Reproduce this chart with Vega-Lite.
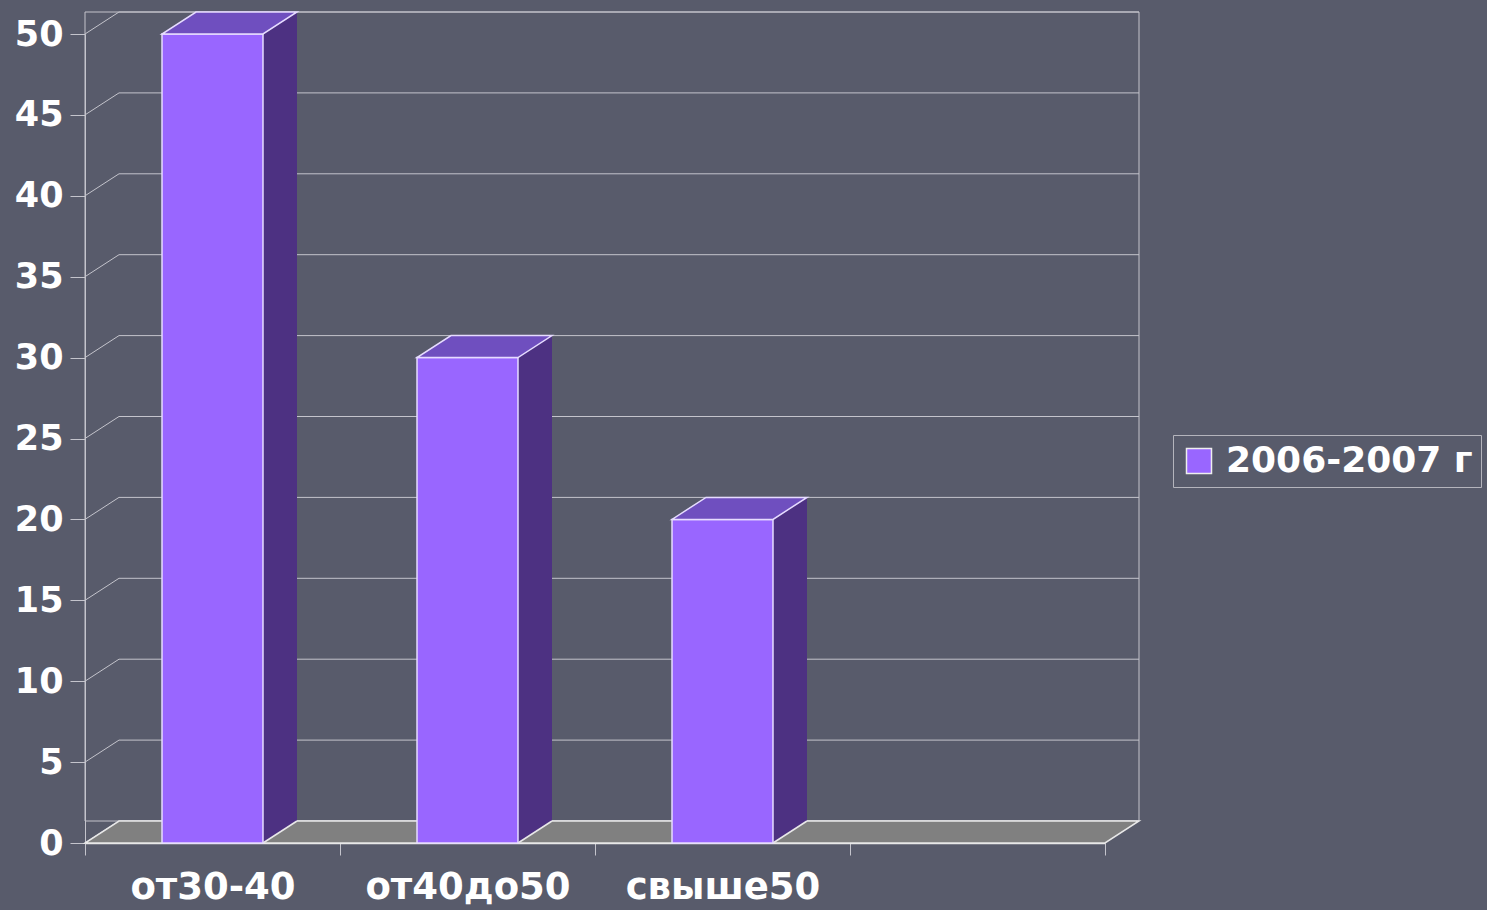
{
  "$schema": "https://vega.github.io/schema/vega-lite/v6.json",
  "width": 1020,
  "height": 809,
  "autosize": {"type": "none"},
  "padding": {"left": 85, "top": 34, "right": 382, "bottom": 67},
  "background": "#585b6b",
  "config": {"view": {"stroke": null}, "font": "DejaVu Sans"},
  "datasets": {
    "bars": [
      {"c": "от30-40", "v": 50, "s": "2006-2007 г"},
      {"c": "от40до50", "v": 30, "s": "2006-2007 г"},
      {"c": "свыше50", "v": 20, "s": "2006-2007 г"}
    ],
    "ticks": [
      {"v": 0}, {"v": 5}, {"v": 10}, {"v": 15}, {"v": 20}, {"v": 25},
      {"v": 30}, {"v": 35}, {"v": 40}, {"v": 45}, {"v": 50}
    ],
    "one": [{"k": 1}]
  },
  "layer": [
    {
      "data": {"name": "one"},
      "mark": {"type": "rect", "fillOpacity": 0, "stroke": "#c4c4cc", "strokeWidth": 1, "xOffset": 34, "x2Offset": 34, "yOffset": -22, "y2Offset": -22},
      "encoding": {
        "y": {"datum": 0, "type": "quantitative", "scale": {"domain": [0, 50], "nice": false}},
        "y2": {"datum": 50}
      }
    },
    {
      "data": {"name": "ticks"},
      "mark": {"type": "point", "shape": "M-510,0L-476,-22L544,-22", "size": 4, "filled": false, "stroke": "#c4c4cc", "strokeWidth": 1, "opacity": 1},
      "encoding": {
        "y": {"field": "v", "type": "quantitative"}
      }
    },
    {
      "data": {"name": "one"},
      "mark": {"type": "point", "shape": "M-510,0L510,0L544,-22L-476,-22Z", "size": 4, "filled": true, "fill": "#808080", "stroke": "#e8e8e8", "strokeWidth": 1.5, "opacity": 1},
      "encoding": {
        "y": {"datum": 0, "type": "quantitative"}
      }
    },
    {
      "data": {"name": "bars"},
      "mark": {"type": "bar", "width": 34, "xOffset": 67.5, "yOffset": -22, "y2Offset": -22, "fill": "#4d3182", "stroke": null},
      "encoding": {
        "x": {"field": "c", "type": "nominal",
          "scale": {"domain": ["от30-40", "от40до50", "свыше50", " "], "paddingInner": 0.604, "paddingOuter": 0.302},
          "axis": {"orient": "bottom", "bandPosition": 2.525, "tickExtra": true, "tickOffset": -77, "labelOffset": 77, "labelFontSize": 37, "labelFontWeight": "bold", "labelColor": "#ffffff", "tickColor": "#c4c4cc", "tickSize": 12, "domainColor": "#e8e8e8", "domainWidth": 1.5, "labelPadding": 14, "title": null, "labelAngle": 0, "labelLimit": 0}},
        "y": {"field": "v", "type": "quantitative",
          "axis": {"orient": "left", "values": [0, 5, 10, 15, 20, 25, 30, 35, 40, 45, 50], "grid": false, "labelFontSize": 35, "labelFontWeight": "bold", "labelColor": "#ffffff", "tickSize": 15, "tickColor": "#c4c4cc", "domainColor": "#c4c4cc", "labelPadding": 7, "title": null}},
        "y2": {"datum": 0}
      }
    },
    {
      "data": {"name": "bars"},
      "mark": {"type": "point", "shape": "M50.5,0L50.5,-22L84.5,-22Z", "size": 4, "filled": true, "fill": "#4d3182", "strokeWidth": 0, "opacity": 1},
      "encoding": {
        "x": {"field": "c", "type": "nominal"},
        "y": {"datum": 0, "type": "quantitative"}
      }
    },
    {
      "data": {"name": "bars"},
      "mark": {"type": "point", "shape": "M50.5,0L84.5,-22", "size": 4, "filled": false, "stroke": "#e8e8e8", "strokeWidth": 1.5, "opacity": 1},
      "encoding": {
        "x": {"field": "c", "type": "nominal"},
        "y": {"datum": 0, "type": "quantitative"}
      }
    },
    {
      "data": {"name": "bars"},
      "mark": {"type": "bar", "stroke": "#e6dcff", "strokeWidth": 1.5, "opacity": 1},
      "encoding": {
        "x": {"field": "c", "type": "nominal"},
        "y": {"field": "v", "type": "quantitative"},
        "y2": {"datum": 0},
        "color": {"field": "s", "type": "nominal", "scale": {"range": ["#9966ff"]},
          "legend": {"orient": "none", "legendX": 1088, "legendY": 401, "title": null, "labelFontSize": 36, "labelFontWeight": "bold", "labelColor": "#ffffff", "labelLimit": 0, "symbolType": "square", "symbolSize": 625, "symbolStrokeColor": "#eeeeee", "symbolStrokeWidth": 1.5, "strokeColor": "#b4b4bc", "padding": 8, "labelOffset": 9}}
      }
    },
    {
      "data": {"name": "bars"},
      "mark": {"type": "point", "shape": "M-50.5,0L50.5,0L84.5,-22L-16.5,-22Z", "size": 4, "filled": true, "fill": "#6f4fbf", "stroke": "#e6dcff", "strokeWidth": 1.5, "opacity": 1},
      "encoding": {
        "x": {"field": "c", "type": "nominal"},
        "y": {"field": "v", "type": "quantitative"}
      }
    }
  ]
}
